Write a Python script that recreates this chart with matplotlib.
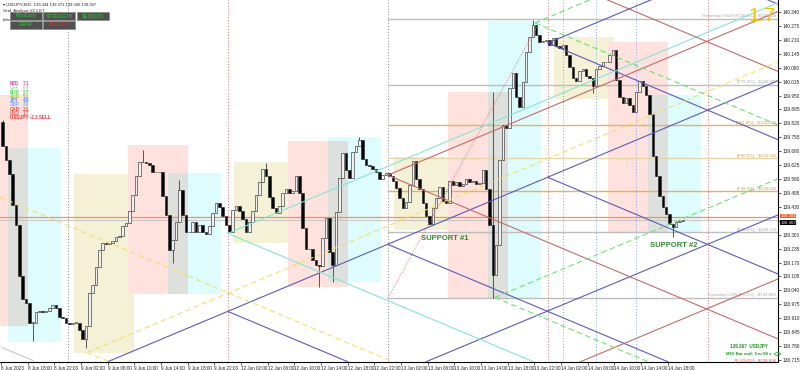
import matplotlib
matplotlib.use("Agg")
import matplotlib.pyplot as plt
from matplotlib.patches import Rectangle, Circle
import numpy as np

plt.rcParams['font.family'] = ['Liberation Sans', 'DejaVu Sans']

# USDJPY, 30 min closes (x unit = one M15 bar from 8 Jun 14:00)
first_open = 139.826
closes = [
    139.713, 139.648, 139.582, 139.437, 139.344, 139.105, 139.002, 138.979, 138.890, 138.890,
    138.937, 138.942, 138.937, 138.946, 138.960, 138.974, 138.956, 138.914, 138.909, 138.890,
    138.885, 138.890, 138.890, 138.853, 138.815, 138.876, 139.030, 139.063, 139.147, 139.227,
    139.260, 139.255, 139.260, 139.269, 139.288, 139.292, 139.339, 139.353, 139.409, 139.484,
    139.573, 139.638, 139.638, 139.634, 139.624, 139.592, 139.592, 139.592, 139.479, 139.391,
    139.227, 139.274, 139.358, 139.507, 139.391, 139.311, 139.311, 139.358, 139.311, 139.344,
    139.311, 139.302, 139.339, 139.400, 139.447, 139.428, 139.386, 139.344, 139.311, 139.414,
    139.433, 139.409, 139.372, 139.311, 139.358, 139.409, 139.484, 139.545, 139.606, 139.573,
    139.475, 139.423, 139.400, 139.433, 139.493, 139.512, 139.493, 139.503, 139.573, 139.493,
    139.330, 139.232, 139.232, 139.180, 139.157, 139.152, 139.283, 139.377, 139.218, 139.157,
    139.405, 139.564, 139.681, 139.601, 139.564, 139.685, 139.713, 139.741, 139.652, 139.624,
    139.620, 139.606, 139.592, 139.559, 139.578, 139.587, 139.573, 139.550, 139.517, 139.470,
    139.423, 139.451, 139.531, 139.643, 139.559, 139.512, 139.447, 139.386, 139.349, 139.423,
    139.470, 139.522, 139.456, 139.447, 139.550, 139.531, 139.545, 139.526, 139.536, 139.559,
    139.545, 139.550, 139.536, 139.540, 139.601, 139.512, 139.344, 139.110, 139.250, 139.648,
    139.812, 139.797, 139.985, 140.055, 139.942, 139.896, 140.013, 140.153, 140.223, 140.279,
    140.232, 140.200, 140.204, 140.209, 140.186, 140.218, 140.181, 140.172, 140.186, 140.139,
    140.083, 140.031, 140.017, 140.064, 140.073, 140.041, 140.031, 139.994, 140.073, 140.087,
    140.106, 140.106, 140.139, 140.162, 140.022, 139.942, 139.914, 139.938, 139.905, 139.872,
    139.966, 140.017, 139.994, 139.952, 139.863, 139.667, 139.573, 139.479, 139.428, 139.395,
    139.349, 139.334, 139.358, 139.363, 139.367,
]
spike_hi = {0: 139.835, 42: 139.695, 53: 139.554, 79: 139.634, 107: 139.755,
            147: 139.966, 159: 140.303}
spike_lo = {9: 138.806, 25: 138.773, 51: 139.166, 95: 139.054, 99: 139.077,
            147: 139.005, 177: 139.961, 201: 139.288}

time_ticks = list(range(0, 401, 16))
time_labels = ["8 Jun 2023", "8 Jun 18:00", "8 Jun 22:00", "9 Jun 02:00", "9 Jun 06:00",
               "9 Jun 10:00", "9 Jun 14:00", "9 Jun 18:00", "9 Jun 22:00", "12 Jun 02:00",
               "12 Jun 06:00", "12 Jun 10:00", "12 Jun 14:00", "12 Jun 18:00", "12 Jun 22:00",
               "13 Jun 02:00", "13 Jun 06:00", "13 Jun 10:00", "13 Jun 14:00", "13 Jun 18:00",
               "13 Jun 22:00", "14 Jun 02:00", "14 Jun 06:00", "14 Jun 10:00", "14 Jun 14:00",
               "14 Jun 18:00"]
price_ticks = [138.715, 138.780, 138.845, 138.910, 138.975, 139.040, 139.105, 139.170,
               139.235, 139.300, 139.365, 139.430, 139.495, 139.560, 139.625, 139.690,
               139.755, 139.820, 139.885, 139.950, 140.015, 140.080, 140.145, 140.210,
               140.275, 140.340]

# session boxes: (start, end) in bars, (low, high) in price
asia_t = [(44, 80), (140, 176), (236, 272), (332, 368)]
asia_p = [(138.750, 139.582), (139.260, 139.638), (139.320, 139.662), (139.933, 140.223)]
london_t = [(-20, 16), (76, 112), (172, 208), (268, 304), (364, 400)]
london_p = [(138.876, 139.952), (139.021, 139.718), (139.054, 139.737), (139.002, 139.966),
            (139.311, 140.200)]
ny_t = [(4, 36), (100, 132), (196, 228), (292, 324), (388, 420)]
ny_p = [(138.797, 139.704), (139.021, 139.587), (139.077, 139.756), (139.002, 140.298),
        (139.311, 139.952)]

day_seps = [40, 136, 232, 328, 424]
day_sep_kind = ["gray", "red", "gray", "red", "red"]
blue_marks = [337, 357, 381]

# gann lines (t0, p0, t1, p1)
blue_lines = [(64, 138.707, 466, 140.019), (136, 138.942, 208, 138.707),
              (232, 139.255, 400, 138.707), (255, 138.707, 466, 139.392),
              (328, 139.568, 466, 139.117), (328, 140.195, 466, 139.744),
              (328, 140.195, 390, 140.397), (424, 140.514, 466, 140.377)]
cyan_lines = [(136, 139.306, 466, 140.383), (136, 139.306, 320, 138.705)]
yellow_lines = [(-1, 139.477, 235, 138.707), (51.6, 138.750, 466, 140.107),
                (51.6, 138.750, 64.8, 138.707)]
red_lines = [(232, 139.578, 466, 140.342), (232, 139.578, 466, 138.814),
             (328, 140.513, 466, 140.063), (328, 138.643, 466, 139.093)]
green_lines = [(296.3, 139.007, 466, 139.561), (296.3, 139.007, 388.2, 138.707),
               (320.3, 140.289, 466, 139.813), (320.3, 140.289, 353, 140.396)]
red_dotted = [(232, 139.002, 322, 140.280)]
gray_lines = [(0.6, 138.773, 19.2, 138.713)]

fib_levels = [140.308, 140.000, 139.810, 139.656, 139.502, 139.311, 139.004, 138.696]
fib_texts = ["Yesterday HIGH [F100.0%] - $140.308", "[F76.4%] - $140.000",
             "[F61.8%] - $139.810", "[F50.0%] - $139.656", "[F38.2%] - $139.502",
             "[F23.6%] - $139.311", "Yesterday LOW [F0.0%] - $139.004",
             "[F-23.6%] - $138.696"]
fib_kind = ["gray", "gray", "gold", "khaki", "gold", "gray", "gray", "red"]
fib_start = 232

ask = 139.381
bid = 139.367

strength_names = ["NZD", "CHF", "EUR", "AUD", "JPY", "GBP", "CAD", "USD"]
strength_vals = [7.1, 6.4, 5.7, 5.1, 4.8, 3.9, 2.2, 1.7]
strength_cols = ["#e040c8", "#8fe88f", "#5cd65c", "#8ccd3a", "#4d8cff", "#7fb2ee",
                 "#ff4040", "#ff5a5a"]

fig = plt.figure(figsize=(8, 3.7), dpi=100)
ax = fig.add_axes([0, 8.5 / 370, 778 / 800, 361.5 / 370])
ax.set_xlim(-0.6, 466.1)
ax.set_ylim(138.708, 140.396)

# sessions
def box(t, p, col):
    ax.add_patch(Rectangle((t[0], p[0]), t[1] - t[0], p[1] - p[0], facecolor=col,
                           edgecolor='none', zorder=0))

for t, p in zip(asia_t, asia_p):
    box(t, p, '#f4f1d6')
for t, p in zip(london_t, london_p):
    box(t, p, '#ffe1dd')
for t, p in zip(ny_t, ny_p):
    box(t, p, '#defcfd')
for lt, lp, nt, np_ in zip(london_t, london_p, ny_t, ny_p):
    t = (max(lt[0], nt[0]), min(lt[1], nt[1]))
    p = (max(lp[0], np_[0]), min(lp[1], np_[1]))
    if t[1] > t[0] and p[1] > p[0]:
        box(t, p, '#dde0dc')

for x, k in zip(day_seps, day_sep_kind):
    c = '#808080' if k == "gray" else '#e06a6a'
    ax.axvline(x, color=c, lw=0.7, ls=(0, (1, 2)), zorder=1)
for x in blue_marks:
    ax.axvline(x, color='#7aa8f0', lw=0.7, ls=(0, (1, 2)), zorder=1)

# fibo levels
fib_line_col = {"gray": '#bdbdbd', "gold": '#e2b45e', "khaki": '#e6d6a2', "red": '#ff5050'}
fib_text_col = {"gray": '#a8a8a8', "gold": '#c9a040', "khaki": '#c9a040', "red": '#ff4040'}
for lvl, txt, k in zip(fib_levels, fib_texts, fib_kind):
    ax.plot([fib_start, 466.1], [lvl, lvl], color=fib_line_col[k], lw=1.0, zorder=2)
    if lvl > 138.708:
        ax.text(465, lvl + 0.003, txt, ha='right', va='bottom', fontsize=3.2,
                color=fib_text_col[k], zorder=2, clip_on=True)
    else:
        ax.text(465, 138.712, txt, ha='right', va='center', fontsize=3.2,
                color=fib_text_col[k], zorder=7, clip_on=False)

ax.axhline(ask, color='#ff8a5c', lw=0.9, zorder=2)
ax.axhline(bid, color='#c8c8c8', lw=0.8, zorder=2)

# candles
opens = [first_open] + closes[:-1]
t_mid = np.arange(len(closes)) * 2 + 1
highs = [max(o, c) for o, c in zip(opens, closes)]
lows = [min(o, c) for o, c in zip(opens, closes)]
for i, v in spike_hi.items():
    highs[i] = v
for i, v in spike_lo.items():
    lows[i] = v
ax.vlines(t_mid, lows, highs, color='#555555', lw=0.7, zorder=4)
bull = [c >= o for o, c in zip(opens, closes)]
bottoms = [min(o, c) for o, c in zip(opens, closes)]
heights = [max(abs(c - o), 0.002) for o, c in zip(opens, closes)]
ax.bar(t_mid, heights, bottom=bottoms, width=1.5,
       color=['#f0f0f0' if b else 'black' for b in bull],
       edgecolor='#202020', linewidth=0.4, zorder=5)

# gann lines
def draw(lines, col, ls, lw=0.8):
    for t0, p0, t1, p1 in lines:
        ax.plot([t0, t1], [p0, p1], color=col, ls=ls, lw=lw, zorder=6)

draw(blue_lines, '#5b5bb8', '-')
draw(cyan_lines, '#86e4d6', '-')
draw(red_lines, '#c46a6a', '-')
draw(yellow_lines, '#f3df6a', (0, (5, 3)))
draw(green_lines, '#6ee26e', (0, (5, 3)))
draw(red_dotted, '#ee7070', (0, (1, 1.5)), 0.7)
draw(gray_lines, '#c8c8c8', '-')

# axes
for s in ['top', 'left']:
    ax.spines[s].set_visible(False)
ax.spines['right'].set_linewidth(0.8)
ax.spines['bottom'].set_linewidth(0.8)
ax.yaxis.tick_right()
ax.set_yticks(price_ticks)
# the bid label sits on top of the 139.365 tick, as in the terminal
ax.set_yticklabels(["" if abs(p - bid) < 0.01 else f"{p:.3f}" for p in price_ticks])
ax.set_xticks(time_ticks)
ax.set_xticklabels(time_labels)
ax.tick_params(axis='y', length=2, width=0.5, pad=1, labelsize=3.4, colors='#202020')
ax.tick_params(axis='x', length=2, width=0.5, pad=1, labelsize=3.3, colors='#202020')
for lab in ax.get_xticklabels():
    lab.set_ha('left')

trans = ax.get_yaxis_transform()
ax.text(1.003, ask + 0.006, f"{ask:.3f}", transform=trans, fontsize=3.2, color='white',
        va='center', ha='left', bbox=dict(boxstyle='square,pad=0.06', fc='#ff5a1e', ec='none'),
        zorder=8)
ax.text(1.003, bid - 0.011, f"{bid:.3f}", transform=trans, fontsize=3.2, color='white',
        va='center', ha='left', bbox=dict(boxstyle='square,pad=0.06', fc='black', ec='none'),
        zorder=8)

# labels on the chart
ax.text(0.541, 0.335, "SUPPORT #1", transform=ax.transAxes, fontsize=5.5, weight='bold',
        color='#2e8b2e', family=['Liberation Sans Narrow', 'Liberation Sans'])
ax.text(0.835, 0.318, "SUPPORT #2", transform=ax.transAxes, fontsize=5.5, weight='bold',
        color='#2e8b2e', family=['Liberation Sans Narrow', 'Liberation Sans'])
fig.text(748 / 800, 1 - 21 / 370, "1.7", fontsize=14, color='#f5c400')
fig.text(768 / 800, 1 - 347 / 370, "139.367  USDJPY", fontsize=3.3, weight='bold',
         color='#1f8f1f', ha='right', va='center')
fig.text(772 / 800, 1 - 354 / 370, "M15 Bar end: 3 m 50 s", fontsize=3.2, weight='bold',
         color='#1f8f1f', ha='right', va='center')
fig.patches.append(Circle((777.5 / 800, 1 - 354 / 370), 3.0 / 800, transform=fig.transFigure,
                          fc='none', ec='#3aa03a', lw=0.6))
fig.text(777.5 / 800, 1 - 354 / 370, "?", fontsize=3, color='#3aa03a', ha='center',
         va='center')

# header and panel
fig.text(3 / 800, 1 - 6 / 370, "\u25be USDJPY,M15  139.344 139.373 139.340 139.367",
         fontsize=3, color='#202020')
fig.text(3 / 800, 1 - 12 / 370, "Graf_Analysis V2.1 ET", fontsize=3, color='#202020')
fig.text(3 / 800, 1 - 21 / 370, "(ahsw", fontsize=3, color='#202020')
buttons = [("FiboDaily", 10, 12, '#33cc33'), ("STRENGTH", 43, 12, '#33cc33'),
           ("SESSION", 77, 12, '#33cc33'), ("GRAF", 10, 21, '#33cc33'),
           ("BULLET", 43, 21, '#e03030')]
for name, bx, by, col in buttons:
    fig.patches.append(Rectangle((bx / 800, 1 - (by + 8) / 370), 32 / 800, 8 / 370,
                                 transform=fig.transFigure, fc='#4f4f4f', ec='#8a8a8a',
                                 lw=0.5, zorder=10))
    fig.text((bx + 16) / 800, 1 - (by + 4) / 370, name, fontsize=3.6, color=col,
             ha='center', va='center', zorder=11)

for i, (n, v, c) in enumerate(zip(strength_names, strength_vals, strength_cols)):
    y = 1 - (85 + 4.3 * i) / 370
    fig.text(10 / 800, y, n, fontsize=3.3, color=c, weight='bold')
    fig.text(23 / 800, y, f"{v:.1f}", fontsize=3.3, color=c, weight='bold')
fig.text(10 / 800, 1 - 119.5 / 370, "USDJPY -2.3 SELL", fontsize=3.3, color='#ff3030',
         weight='bold')

fig.savefig("out.png", dpi=100)
